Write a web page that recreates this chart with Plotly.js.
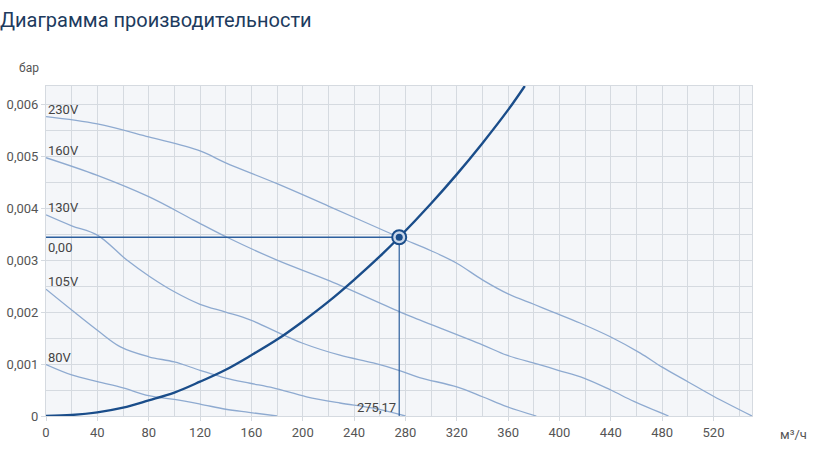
<!DOCTYPE html>
<html>
<head>
<meta charset="utf-8">
<script src="https://cdn.plot.ly/plotly-3.0.1.min.js"></script>
<style>
  html, body { margin: 0; padding: 0; background: #fff; }
  #chart { width: 820px; height: 473px; }
</style>
</head>
<body>
<div id="chart"></div>
<script>
// ---- data ----
const x230 = [0, 40, 80, 120, 140, 180, 220, 275, 300, 320, 340, 360, 380, 395, 416, 440, 463, 480, 500, 520, 550];
const y230 = [0.00576, 0.00562, 0.00537, 0.00510, 0.00487, 0.00447, 0.00404, 0.00344, 0.00318, 0.00294, 0.00262, 0.00235, 0.00215, 0.00200, 0.00179, 0.00152, 0.00121, 0.00094, 0.00066, 0.00038, 0];

const x160 = [0, 40, 80, 115, 141, 180, 221, 276, 291, 340, 359, 383, 399, 419, 440, 458, 485];
const y160 = [0.00497, 0.00463, 0.00422, 0.00377, 0.00344, 0.00300, 0.00260, 0.00200, 0.00185, 0.00137, 0.00117, 0.00100, 0.00088, 0.00073, 0.00050, 0.00028, 0];

const x130 = [0, 20, 40, 63, 81, 100, 120, 140, 159, 185, 200, 229, 255, 276, 291, 320, 340, 359, 382];
const y130 = [0.00387, 0.00366, 0.00348, 0.00300, 0.00268, 0.00239, 0.00215, 0.00200, 0.00185, 0.00156, 0.00140, 0.00117, 0.00102, 0.00087, 0.00074, 0.00056, 0.00037, 0.00018, 0];

const x105 = [0, 20, 40, 58, 80, 100, 120, 140, 159, 177, 203, 229, 255, 280];
const y105 = [0.00244, 0.00204, 0.00165, 0.00133, 0.00114, 0.00104, 0.00088, 0.00073, 0.00063, 0.00054, 0.00037, 0.00025, 0.00015, 0];

const x80 = [0, 20, 40, 60, 80, 100, 120, 140, 158, 180];
const y80 = [0.00099, 0.00079, 0.00066, 0.00054, 0.00039, 0.00032, 0.00023, 0.00013, 0.00007, 0];

const xSys = [0, 20, 40, 60, 80, 100, 120, 140, 160, 180, 200, 220, 240, 260, 275.17, 300, 320, 340, 360, 373];
const ySys = [0, 0.00002, 0.00007, 0.00016, 0.00030, 0.00045, 0.00066, 0.00089, 0.00117, 0.00147, 0.00182, 0.00220, 0.00262, 0.00307, 0.00344, 0.00409, 0.00465, 0.00525, 0.00589, 0.00635];

const opX = 275.17;
const opY = 0.00344;
const opXLabel = "275,17";
const opYLabel = "0,00";

const curveNames = ["230V", "160V", "130V", "105V", "80V"];
const curveX = [x230, x160, x130, x105, x80];
const curveY = [y230, y160, y130, y105, y80];

const xTicks = [0, 40, 80, 120, 160, 200, 240, 280, 320, 360, 400, 440, 480, 520];
const yTicks = [0, 0.001, 0.002, 0.003, 0.004, 0.005, 0.006];
const yTickText = ["0", "0,001", "0,002", "0,003", "0,004", "0,005", "0,006"];

// ---- styling ----
const lightBlue = "#8eaad0";
const darkBlue = "#1a4d8a";
const gridColor = "#d5dae0";
const font = "Roboto, 'Noto Sans', sans-serif";

const traces = [];
curveNames.forEach((n, i) => {
  traces.push({
    x: curveX[i], y: curveY[i], name: n, type: "scatter", mode: "lines",
    line: { color: lightBlue, width: 1.3, shape: "spline", smoothing: 1 },
    hoverinfo: "skip"
  });
});
traces.push({
  x: [0, opX], y: [opY, opY], type: "scatter", mode: "lines",
  line: { color: "#2c5f9e", width: 1.6 }, hoverinfo: "skip"
});
traces.push({
  x: [opX, opX], y: [0, opY], type: "scatter", mode: "lines",
  line: { color: "#2c5f9e", width: 1.2 }, hoverinfo: "skip"
});
traces.push({
  x: xSys, y: ySys, type: "scatter", mode: "lines",
  line: { color: darkBlue, width: 2.4, shape: "spline", smoothing: 1 },
  hoverinfo: "skip"
});
traces.push({
  x: [opX], y: [opY], type: "scatter", mode: "markers",
  marker: { size: 14, color: "#c9d7ea", line: { color: darkBlue, width: 2 } },
  hoverinfo: "skip"
});
traces.push({
  x: [opX], y: [opY], type: "scatter", mode: "markers",
  marker: { size: 7, color: darkBlue }, hoverinfo: "skip"
});

const annotations = curveNames.map((n, i) => ({
  x: 0, y: curveY[i][0], xref: "x", yref: "y", text: n, showarrow: false,
  xanchor: "left", yanchor: "bottom", xshift: 0, yshift: -2,
  font: { family: font, size: 13, color: "#444" }
}));
annotations.push({
  x: 0, y: opY, xref: "x", yref: "y", text: opYLabel, showarrow: false,
  xanchor: "left", yanchor: "top", yshift: -1,
  font: { family: font, size: 13, color: "#444" }
});
annotations.push({
  x: opX, y: 0, xref: "x", yref: "y", text: opXLabel, showarrow: false,
  xanchor: "right", yanchor: "bottom", xshift: -1, yshift: -1,
  font: { family: font, size: 13, color: "#444" }
});
annotations.push({
  x: 0, y: 1, xref: "paper", yref: "paper", text: "бар", showarrow: false,
  xanchor: "right", yanchor: "bottom", xshift: -5, yshift: 9,
  font: { family: font, size: 12, color: "#555" }
});
annotations.push({
  x: 1, y: 0, xref: "paper", yref: "paper", text: "м³/ч", showarrow: false,
  xanchor: "left", yanchor: "top", xshift: 26, yshift: -9,
  font: { family: font, size: 13, color: "#555" }
});

const layout = {
  width: 820, height: 473,
  margin: { l: 46, r: 68, t: 86, b: 57 },
  paper_bgcolor: "#ffffff",
  plot_bgcolor: "#f4f6f9",
  separators: ",.",
  showlegend: false,
  title: {
    text: "Диаграмма производительности",
    x: 0, xref: "paper", xanchor: "left", y: 0.972, yanchor: "top",
    font: { family: font, size: 20, color: "#1d3b5e" },
    pad: { l: -46 }
  },
  xaxis: {
    range: [0, 550], tickvals: xTicks, ticktext: xTicks.map(String),
    showgrid: true, gridcolor: gridColor, gridwidth: 1,
    minor: { dtick: 20, tick0: 0, showgrid: true, gridcolor: gridColor, gridwidth: 1 },
    zeroline: false, showline: true, linecolor: gridColor, mirror: true,
    ticks: "outside", ticklen: 4, tickcolor: gridColor,
    tickfont: { family: font, size: 13, color: "#555" }, fixedrange: true
  },
  yaxis: {
    range: [0, 0.00635], tickvals: yTicks, ticktext: yTickText,
    showgrid: true, gridcolor: gridColor, gridwidth: 1,
    minor: { dtick: 0.0005, tick0: 0, showgrid: true, gridcolor: gridColor, gridwidth: 1 },
    zeroline: false, showline: true, linecolor: gridColor, mirror: true,
    ticks: "outside", ticklen: 4, tickcolor: gridColor,
    tickfont: { family: font, size: 13, color: "#555" }, fixedrange: true
  },
  annotations: annotations
};

Plotly.newPlot("chart", traces, layout, { displayModeBar: false, staticPlot: true });
</script>
</body>
</html>
